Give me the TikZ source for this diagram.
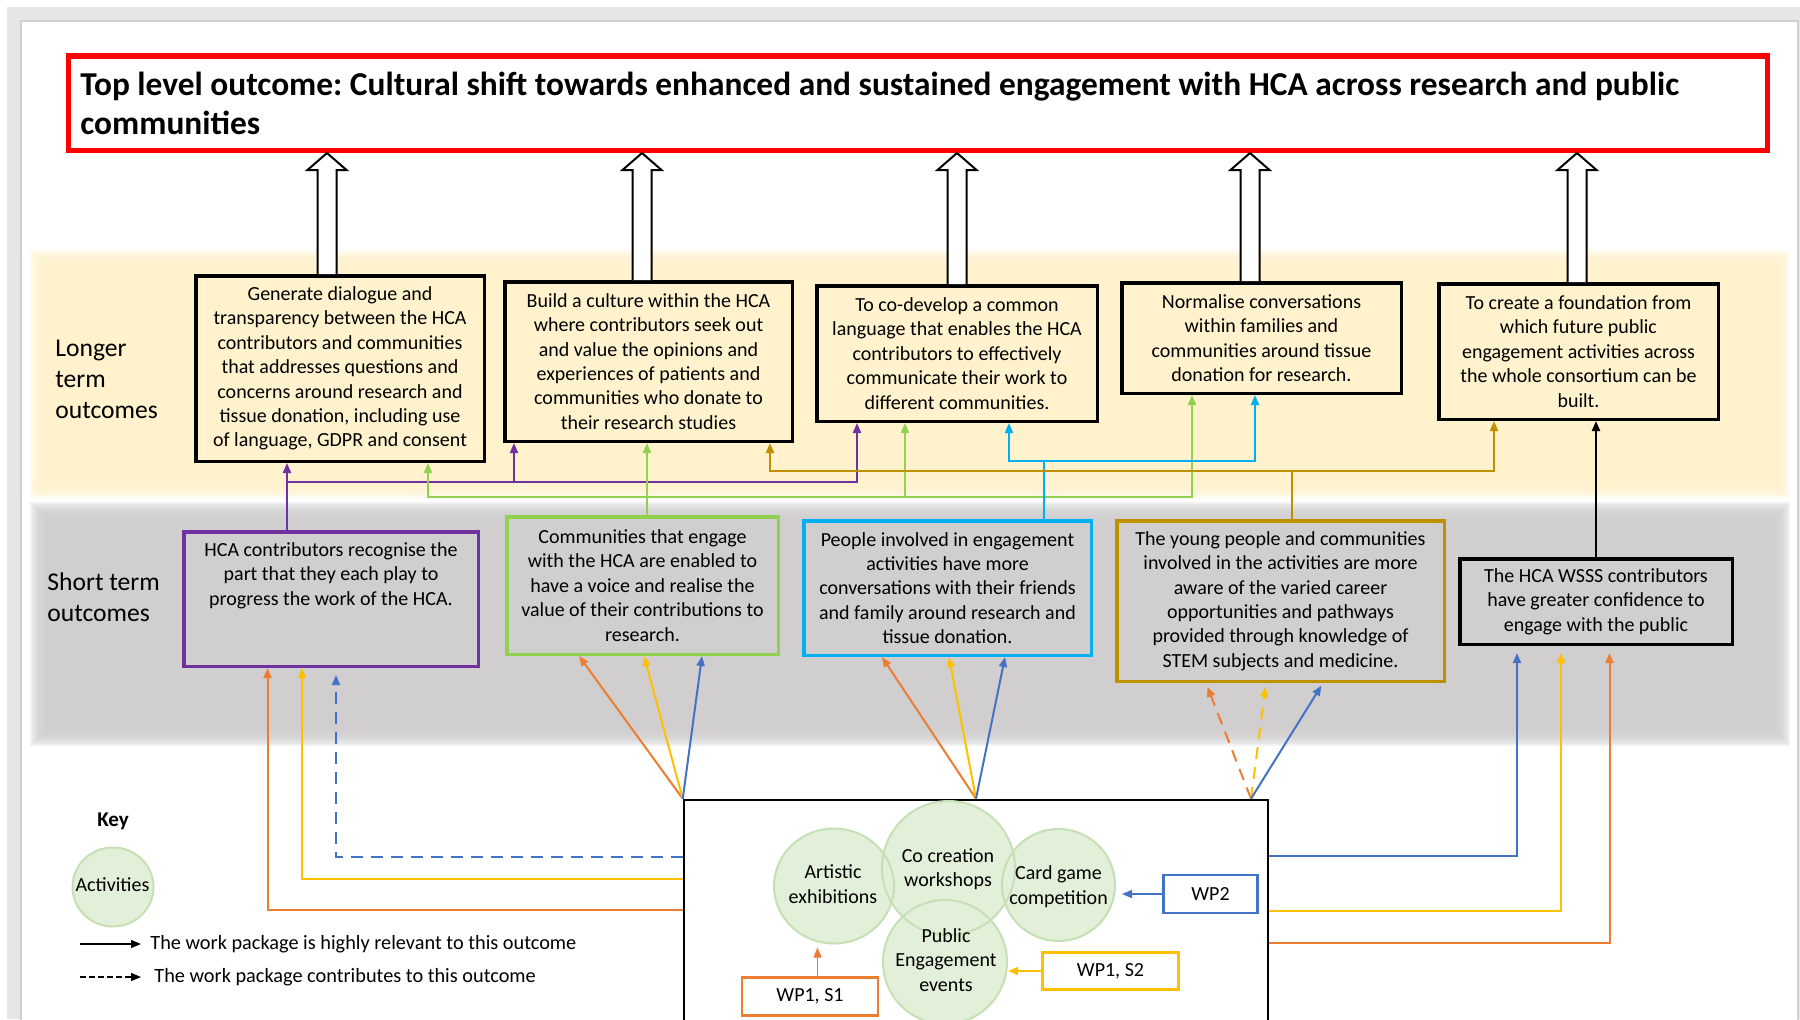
\documentclass[tikz,border=0pt]{standalone}
\usepackage{fontspec}
\setmainfont{Carlito}
\usetikzlibrary{arrows.meta,calc,shapes.geometric}

\definecolor{bandY}{HTML}{FFF2CC}
\definecolor{bandG}{HTML}{D0CECE}
\definecolor{cPur}{HTML}{7030A0}
\definecolor{cGrn}{HTML}{92D050}
\definecolor{cCyan}{HTML}{00B0F0}
\definecolor{cGold}{HTML}{BF9000}
\definecolor{cOrg}{HTML}{ED7D31}
\definecolor{cYel}{HTML}{FFC000}
\definecolor{cBlu}{HTML}{4472C4}
\definecolor{actFill}{HTML}{E2EFD9}
\definecolor{actLine}{HTML}{C5E0B4}
\definecolor{frameG}{HTML}{E6E6E6}
\definecolor{pageLine}{HTML}{D0D0D0}

\newcommand\boxfont{\fontsize{10}{12.2}\selectfont}
\newcommand\keyfont{\fontsize{10.15}{12.2}\selectfont}
\newcommand\titlefont{\bfseries\fontsize{16.7}{19.6}\selectfont\frenchspacing}
\newcommand\rowfont{\fontsize{12.8}{15.5}\selectfont}

% band with a soft, blurred edge
\newcommand\softrect[5]{%
  \foreach \k in {0,...,7}{%
    \fill[#1, opacity=0.28] ({#2+2*\k},{#3+2*\k}) rectangle ({#4-2*\k},{#5-2*\k});
  }%
  \fill[#1] ({#2+16},{#3+16}) rectangle ({#4-16},{#5-16});
}

% hollow block arrow from a box up to the top-level outcome
\newcommand\hollowup[2]{%
  \draw[hollow] (#1-9.5,0 |- #2.north) -- (#1-9.5,170) -- (#1-19.5,170) -- (#1,153)
    -- (#1+19.5,170) -- (#1+9.5,170) -- (#1+9.5,0 |- #2.north);
}

\begin{document}
\begin{tikzpicture}[x=0.5pt, y=-0.5pt,
  >={Triangle[length=5pt,width=4pt]},
  lt/.style={draw=black, line width=1.75pt, fill=bandY, align=center, font=\boxfont, inner sep=0pt},
  st/.style={line width=1.75pt, fill=bandG, align=center, font=\boxfont, inner sep=0pt},
  hollow/.style={draw=black, line width=1pt, fill=white, line join=miter},
  link/.style={line width=1pt, ->},
  bus/.style={line width=1pt},
  dsh/.style={dash pattern=on 6pt off 4pt},
  wpbox/.style={line width=1.25pt, fill=white, font=\boxfont, inner sep=0pt},
  actcirc/.style={ellipse, draw=actLine, line width=1pt, inner sep=0pt},
  ctext/.style={font=\boxfont, align=center, inner sep=0pt},
  wparrow/.style={->, line width=0.75pt}]

\useasboundingbox (0,0) rectangle (1800,1019);
\clip (0,0) rectangle (1800,1019);

% page and window frame
\fill[white] (0,0) rectangle (1800,1019);
\fill[frameG] (7,7) rectangle (1800,1019);
\filldraw[fill=white, draw=pageLine, line width=0.6pt] (21,21) rectangle (1798,1040);

% outcome bands
\softrect{bandY}{30}{250}{1790}{498}
\softrect{bandG}{30}{502}{1790}{746}

% top level outcome
\node[draw=red, line width=2.75pt, minimum width=849.5pt, minimum height=47.25pt, inner sep=0pt]
  (top) at (918,103.25) {};
\node[anchor=west, align=left, font=\titlefont, inner sep=0pt] (topT) at (80,103)
  {Top level outcome: Cultural shift towards enhanced and sustained engagement with HCA across research and public\\communities};

% row labels
\node[anchor=west, align=left, font=\rowfont, inner sep=0pt] (rowL) at (55,379) {Longer\\term\\outcomes};
\node[anchor=west, align=left, font=\rowfont, inner sep=0pt] (rowS) at (47,597) {Short term\\outcomes};

% longer term outcomes
\node[lt, minimum width=144.25pt, minimum height=92.75pt] (L1) at (340,368.5)
  {Generate dialogue and\\transparency between the HCA\\contributors and communities\\that addresses questions and\\concerns around research and\\tissue donation, including use\\of language, GDPR and consent};
\node[lt, minimum width=143.75pt, minimum height=79.75pt] (L2) at (648.5,361.5)
  {Build a culture within the HCA\\where contributors seek out\\and value the opinions and\\experiences of patients and\\communities who donate to\\their research studies};
\node[lt, minimum width=140.25pt, minimum height=67.75pt] (L3) at (957,353.5)
  {To co-develop a common\\language that enables the HCA\\contributors to effectively\\communicate their work to\\different communities.};
\node[lt, minimum width=139.75pt, minimum height=55.25pt] (L4) at (1261.5,338)
  {Normalise conversations\\within families and\\communities around tissue\\donation for research.};
\node[lt, minimum width=139.75pt, minimum height=67.75pt] (L5) at (1578.5,351.5)
  {To create a foundation from\\which future public\\engagement activities across\\the whole consortium can be\\built.};

% hollow arrows to the top level outcome
\hollowup{327}{L1}
\hollowup{642}{L2}
\hollowup{957}{L3}
\hollowup{1250}{L4}
\hollowup{1577}{L5}

% short term outcomes
\node[st, draw=cPur, minimum width=147.25pt, minimum height=67.25pt] (A) at (331,599) {};
\node[font=\boxfont, align=center, anchor=north, inner sep=0pt] (Atxt) at (331,542)
  {HCA contributors recognise the\\part that they each play to\\progress the work of the HCA.};
\node[st, draw=cGrn, minimum width=135.75pt, minimum height=68.75pt] (B) at (642.5,585.5)
  {Communities that engage\\with the HCA are enabled to\\have a voice and realise the\\value of their contributions to\\research.};
\node[st, draw=cCyan, minimum width=143.75pt, minimum height=67.25pt] (C) at (947.5,588)
  {People involved in engagement\\activities have more\\conversations with their friends\\and family around research and\\tissue donation.};
\node[st, draw=cGold, minimum width=163.75pt, minimum height=80.25pt] (D) at (1280.5,601)
  {The young people and communities\\involved in the activities are more\\aware of the varied career\\opportunities and pathways\\provided through knowledge of\\STEM subjects and medicine.};
\node[st, draw=black, minimum width=136.25pt, minimum height=42.75pt] (E) at (1596,601.5)
  {The HCA WSSS contributors\\have greater confidence to\\engage with the public};

% links from short term to longer term outcomes
\coordinate (cyBus) at (0,461);
\coordinate (gdBus) at (0,471);
\coordinate (puBus) at (0,482);
\coordinate (grBus) at (0,497);

\draw[cPur, link] (287,0 |- A.north) -- (287,0 |- L1.south);
\draw[cPur, link] (287,0 |- puBus) -- (857,0 |- puBus) -- (857,0 |- L3.south);
\draw[cPur, link] (514,0 |- puBus) -- (514,0 |- L2.south);

\draw[cGrn, link] (647,0 |- B.north) -- (647,0 |- L2.south);
\draw[cGrn, bus, <->] (428,0 |- L1.south) -- (428,0 |- grBus) -- (1192,0 |- grBus) -- (1192,0 |- L4.south);
\draw[cGrn, link] (905,0 |- grBus) -- (905,0 |- L3.south);

\draw[cCyan, bus] (1043.5,0 |- C.north) -- (1043.5,0 |- cyBus);
\draw[cCyan, bus, <->] (1009,0 |- L3.south) -- (1009,0 |- cyBus) -- (1255,0 |- cyBus) -- (1255,0 |- L4.south);

\draw[cGold, bus] (1292,0 |- D.north) -- (1292,0 |- gdBus);
\draw[cGold, bus, <->] (770,0 |- L2.south) -- (770,0 |- gdBus) -- (1494,0 |- gdBus) -- (1494,0 |- L5.south);

\draw[black, link] (1596,0 |- E.north) -- (1596,0 |- L5.south);

% activities
\node[draw=black, line width=1.25pt, minimum width=292pt, minimum height=115pt, inner sep=0pt] (act) at (976,915) {};

\fill[actFill] (834,886) ellipse [x radius=60, y radius=57.5];
\fill[actFill] (948.5,868) ellipse [x radius=66.5, y radius=67];
\fill[actFill] (945,962) ellipse [x radius=62, y radius=62];
\fill[actFill] (1058.5,885) ellipse [x radius=56.5, y radius=56];
\fill[actFill] (113,887) ellipse [x radius=40.5, y radius=39.5];

\node[actcirc, minimum width=60pt, minimum height=57.5pt] (art) at (834,886) {};
\node[actcirc, minimum width=66.5pt, minimum height=67pt] (cocr) at (948.5,868) {};
\node[actcirc, minimum width=62pt, minimum height=62pt] (pub) at (945,962) {};
\node[actcirc, minimum width=56.5pt, minimum height=56pt] (card) at (1058.5,885) {};
\node[actcirc, minimum width=40.5pt, minimum height=39.5pt] (keyC) at (113,887) {};

\node[ctext] (artT) at (833,884) {Artistic\\exhibitions};
\node[ctext] (cocrT) at (948,869) {Co creation\\workshops};
\node[ctext] (pubT) at (946,960) {Public\\Engagement\\events};
\node[ctext] (cardT) at (1058.5,886.5) {Card game\\competition};
\node[ctext] (keyCT) at (112.5,885) {Activities};

% work packages
\node[wpbox, draw=cBlu, minimum width=47pt, minimum height=19pt] (wp2) at (1210.5,894) {WP2};
\node[wpbox, draw=cYel, minimum width=68pt, minimum height=18.5pt] (wps2) at (1110.5,971) {WP1, S2};
\node[wpbox, draw=cOrg, minimum width=68pt, minimum height=19pt] (wps1) at (810,996.5) {WP1, S1};

\draw[wparrow, cBlu, shorten >=3pt] (wp2.west) -- (card.east |- wp2.west);
\draw[wparrow, cYel] (wps2.west) -- (pub.east |- wps2.west);
\draw[wparrow, cOrg, shorten >=1.5pt] (817.5,0 |- wps1.north) -- (817.5,0 |- art.south);

% links from activities to short term outcomes
\draw[cBlu, link, dsh, shorten >=3.5pt] (act.west |- 0,857) -| (336,0 |- A.south);
\draw[cYel, link] (act.west |- 0,879) -| (302,0 |- A.south);
\draw[cOrg, link] (act.west |- 0,910) -| (267.5,0 |- A.south);

\draw[cOrg, link] (act.north west) -- (579,0 |- B.south);
\draw[cYel, link] (act.north west) -- (644,0 |- B.south);
\draw[cBlu, link] (act.north west) -- (702,0 |- B.south);

\coordinate (actC) at (976,0 |- act.north);
\draw[cOrg, link] (actC) -- (882,0 |- C.south);
\draw[cYel, link] (actC) -- (949,0 |- C.south);
\draw[cBlu, link] (actC) -- (1005,0 |- C.south);

\coordinate (actD) at (1251,0 |- act.north);
\draw[cOrg, link, dsh, shorten >=2pt] (actD) -- (1206,0 |- D.south);
\draw[cYel, link, dsh, shorten >=2pt] (actD) -- (1266,0 |- D.south);
\draw[cBlu, link, shorten >=1.5pt] (actD) -- (1323,0 |- D.south);

\draw[cBlu, link, shorten >=3.5pt] (act.east |- 0,856) -| (1517,0 |- E.south);
\draw[cYel, link, shorten >=3.5pt] (act.east |- 0,910.5) -| (1561,0 |- E.south);
\draw[cOrg, link, shorten >=3.5pt] (act.east |- 0,943) -| (1609.5,0 |- E.south);

% key
\node[font=\bfseries\fontsize{10.5}{12}\selectfont, inner sep=0pt] (keyT) at (113,821) {Key};
\coordinate (ks1) at (80,944);
\coordinate (ke1) at (141,944);
\coordinate (ks2) at (80,977);
\coordinate (ke2) at (141,977);
\draw[->, line width=0.75pt] (ks1) -- (ke1);
\draw[->, line width=0.75pt, dash pattern=on 3pt off 1.5pt] (ks2) -- (ke2);
\node[anchor=west, font=\keyfont, inner sep=0pt] (kt1) at (150,944) {The work package is highly relevant to this outcome};
\node[anchor=west, font=\keyfont, inner sep=0pt] (kt2) at (154,977) {The work package contributes to this outcome};

\end{tikzpicture}
\end{document}
